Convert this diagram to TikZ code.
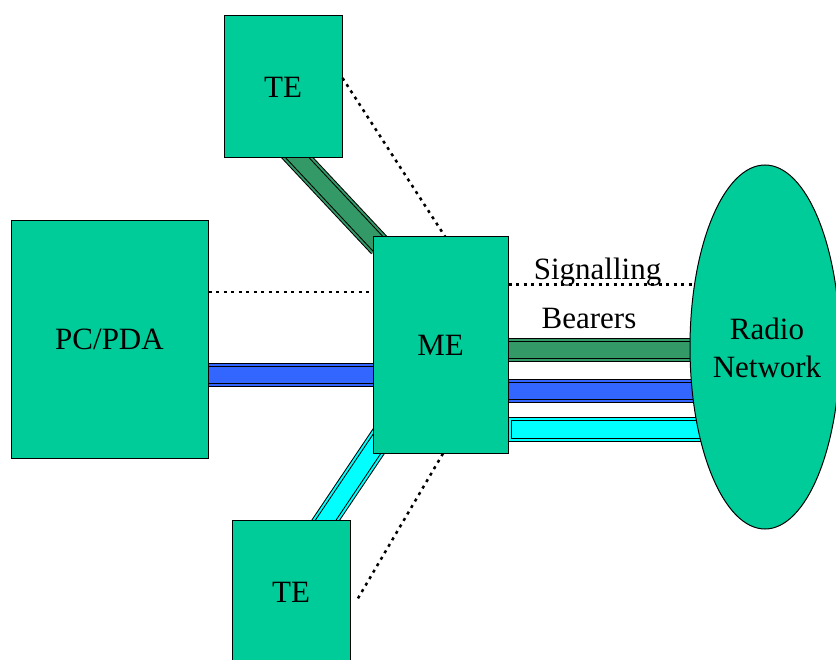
\documentclass[tikz,border=0pt]{standalone}
\usepackage{fontspec}
\setmainfont{Liberation Serif}
\usetikzlibrary{shapes.geometric}
\definecolor{boxfill}{HTML}{00CC99}
\definecolor{greenB}{HTML}{339966}
\definecolor{blueB}{HTML}{3366FF}
\definecolor{cyanB}{HTML}{00FFFF}
\tikzset{
  box/.style={draw=black, line width=1pt, fill=boxfill, rectangle, inner sep=0pt, font=\fontsize{31}{36}\selectfont},
  bearer/.style={draw=black, line width=24pt,
    postaction={draw=#1, line width=22pt},
    postaction={draw=black, line width=18pt},
    postaction={draw=#1, line width=16pt}},
  dots/.style={draw=black, line width=2.5pt, dash pattern=on 3pt off 4.5pt},
  lbl/.style={inner sep=0pt, anchor=base, font=\fontsize{31}{36}\selectfont}
}
\begin{document}
\begin{tikzpicture}[x=1pt,y=-1pt]
\useasboundingbox (0,0) rectangle (836,660);
% node placement (coordinates only, drawn later)
\coordinate (teAc) at (283,87);
\coordinate (pcc) at (109.5,339.5);
\coordinate (mec) at (440.5,345);
\coordinate (teBc) at (291,592.5);
\coordinate (rnc) at (765,347);
% diagonal bearers
\coordinate (gA) at (277,136);
\coordinate (gB) at (380,246);
\coordinate (cA) at (309,545);
\coordinate (cB) at (393,420);
\draw[bearer=greenB] (gA) -- (gB);
\draw[bearer=cyanB] (cA) -- (cB);
% horizontal bearers
\draw[bearer=blueB] (pcc |- 0,375) -- (mec |- 0,375);
\draw[bearer=greenB] (mec |- 0,350.5) -- (rnc |- 0,350.5);
\draw[bearer=blueB] (mec |- 0,391) -- (rnc |- 0,391);
\draw[draw=black, line width=1pt, fill=cyanB] (508,418) rectangle (rnc |- 0,442);
\draw[draw=black, line width=1pt] (511,421) rectangle (rnc |- 0,439);
% boxes
\node[box, minimum width=118pt, minimum height=142pt] (teA) at (teAc) {TE};
\node[box, minimum width=197pt, minimum height=237pt] (pc) at (pcc) {PC/PDA};
\node[box, minimum width=135pt, minimum height=216pt] (me) at (mec) {ME};
\node[box, minimum width=118pt, minimum height=145pt] (teB) at (teBc) {TE};
% dotted signalling lines
\draw[dots] (pc.east |- 0,292) -- (me.west |- 0,292);
\draw[dots] (teA.east |- 0,78) -- (me.north -| 445,0);
\draw[dots] (me.south -| 443,0) -- (357,600);
\draw[dots] (me.east |- 0,284.5) -- (692,284.5);
% radio network
\node[draw=black, line width=1pt, fill=boxfill, ellipse, minimum width=150pt, minimum height=364pt, inner sep=0pt] (rn) at (rnc) {};
\node[lbl] (rt1) at (767,340) {Radio};
\node[lbl] (rt2) at (767,378) {Network};
\node[lbl] (sig) at (597.5,280) {Signalling};
\node[lbl] (bea) at (589,329) {Bearers};
\end{tikzpicture}
\end{document}
